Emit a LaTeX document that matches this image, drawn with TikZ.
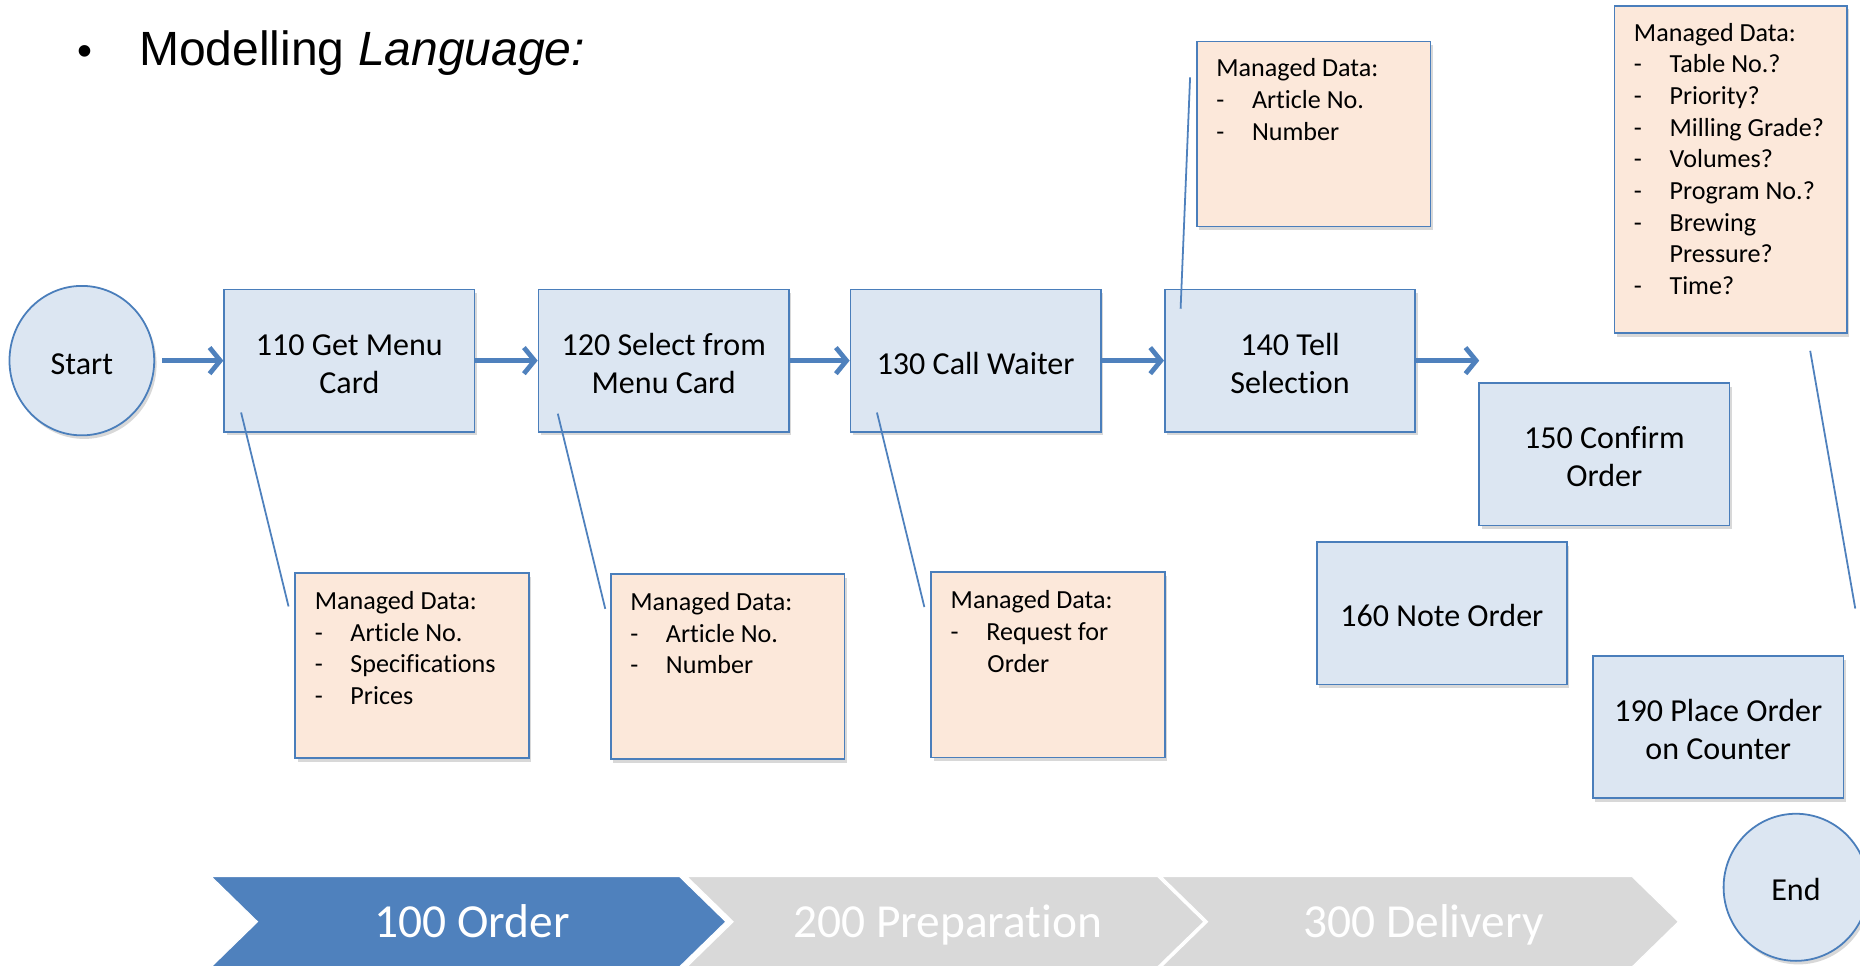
\documentclass[tikz,border=0pt]{standalone}
\usepackage{fontspec}
\setmainfont{Carlito}[Ligatures=NoCommon]
\newfontfamily\arialf{Liberation Sans}
\usetikzlibrary{arrows.meta,shapes.geometric,shadows}
\definecolor{bord}{HTML}{4A7EBB}
\definecolor{procfill}{HTML}{DCE6F2}
\definecolor{datafill}{HTML}{FCE8DA}
\definecolor{flow}{HTML}{4F81BD}
\definecolor{chevblue}{HTML}{4F81BD}
\definecolor{chevgray}{HTML}{D9D9D9}
\newcommand\mditem[1]{\makebox[30pt][l]{-}#1}
\newcommand\topstrut{\rule{0pt}{23pt}}
\begin{document}
\begin{tikzpicture}[x=1pt,y=-1pt,
  shad/.style={drop shadow={shadow xshift=2pt,shadow yshift=-3pt,opacity=.25,fill=black!60}},
  proc/.style={draw=bord,line width=1.5pt,fill=procfill,shad,minimum width=211pt,minimum height=120pt,align=center,font=\fontsize{27}{32}\selectfont,inner sep=0pt},
  term/.style={ellipse,draw=bord,line width=1.5pt,fill=procfill,shad,minimum width=122pt,minimum height=126pt,font=\fontsize{27}{32}\selectfont,inner sep=0pt},
  databox/.style={draw=bord,line width=1.5pt,fill=datafill,shad,minimum width=197pt,minimum height=156pt,inner sep=0pt},
  datatext/.style={anchor=north west,align=left,inner sep=0pt,font=\fontsize{22}{26.7}\selectfont},
  flowarrow/.style={draw=flow,line width=4pt,-{Straight Barb[length=9pt,width=22pt]}},
  conn/.style={draw=flow,line width=1.5pt},
  chev/.style={draw=white,line width=1pt},
  chevtext/.style={text=white,anchor=base,inner sep=0pt,font=\fontsize{40}{48}\selectfont}
]
\useasboundingbox (0,0) rectangle (1568,815);
\clip (0,0) rectangle (1568,815);
\fill[white] (0,0) rectangle (1568,815);

% title
\node[anchor=base,font=\arialf\fontsize{36}{40}\selectfont,inner sep=0pt] (bul) at (72,55) {•};
\node[anchor=base west,font=\arialf\fontsize{40.5}{46}\selectfont,inner sep=0pt] (title) at (117,55) {Modelling \textit{Language:}};

% chevrons
\fill[chevblue,chev] (178,739) -- (573,739) -- (612,777) -- (573,815) -- (178,815) -- (217,777) -- cycle;
\fill[chevgray,chev] (579,739) -- (976,739) -- (1015,777) -- (976,815) -- (579,815) -- (618,777) -- cycle;
\fill[chevgray,chev] (979,739) -- (1376,739) -- (1415,777) -- (1376,815) -- (979,815) -- (1018,777) -- cycle;
\node[chevtext] (p100) at (398,790) {100 Order};
\node[chevtext] (p200) at (799,790) {200 Preparation};
\node[chevtext] (p300) at (1200,790) {300 Delivery};

% data boxes
\node[databox] (d1) at (347.5,561) {};
\node[databox] (d2) at (613.5,562) {};
\node[databox] (d3) at (883.5,560.5) {};
\node[databox] (d4) at (1107.5,113) {};
\node[databox,minimum width=196pt,minimum height=276pt] (d5) at (1459,143) {};
\node[datatext] (t1) at ([shift={(17,16)}]d1.north west) {Managed Data:\\\mditem{Article No.}\\\mditem{Specifications}\\\mditem{Prices}};
\node[datatext] (t2) at ([shift={(17,16)}]d2.north west) {Managed Data:\\\mditem{Article No.}\\\mditem{Number}};
\node[datatext] (t3) at ([shift={(17,16)}]d3.north west) {Managed Data:\\\mditem{Request for}\\\hspace*{31pt}Order};
\node[datatext] (t4) at ([shift={(17,15)}]d4.north west) {Managed Data:\\\mditem{Article No.}\\\mditem{Number}};
\node[datatext] (t5) at ([shift={(17,15)}]d5.north west) {Managed Data:\\\mditem{Table No.?}\\\mditem{Priority?}\\\mditem{Milling Grade?}\\\mditem{Volumes?}\\\mditem{Program No.?}\\\mditem{Brewing}\\\hspace*{30pt}Pressure?\\\mditem{Time?}};

% process nodes
\node[term] (start) at (69,304) {\topstrut Start};
\node[proc] (b110) at (294.5,304) {\topstrut 110 Get Menu\\Card};
\node[proc] (b120) at (559.5,304) {\topstrut 120 Select from\\Menu Card};
\node[proc] (b130) at (822.5,304) {\topstrut 130 Call Waiter};
\node[proc] (b140) at (1087.5,304) {\topstrut 140 Tell\\Selection};
\node[proc] (b150) at (1352.5,383) {\topstrut 150 Confirm\\Order};
\node[proc] (b160) at (1215.5,517) {\topstrut 160 Note Order};
\node[proc] (b190) at (1448.5,613) {\topstrut 190 Place Order\\on Counter};
\node[term,minimum height=124pt] (end) at (1514,748) {\topstrut End};
\coordinate (a150) at (1247,304);
\coordinate (c5) at (1564,513);

% flow arrows
\draw[flowarrow,shorten <=6pt] (start) -- (b110);
\draw[flowarrow] (b110) -- (b120);
\draw[flowarrow] (b120) -- (b130);
\draw[flowarrow] (b130) -- (b140);
\draw[flowarrow] (b140) -- (a150);

% data connectors
\draw[conn] ([shift={(15,-17)}]b110.south west) -- ([shift={(-5,29)}]d1.north west);
\draw[conn] ([shift={(17,-16)}]b120.south west) -- ([shift={(-4,30)}]d2.north west);
\draw[conn] ([shift={(23,-17)}]b130.south west) -- ([shift={(-5,30)}]d3.north west);
\draw[conn] ([shift={(14,17)}]b140.north west) -- ([shift={(-5,31)}]d4.north west);
\draw[conn] ([shift={(67,14)}]d5.south) -- (c5);
\end{tikzpicture}
\end{document}
